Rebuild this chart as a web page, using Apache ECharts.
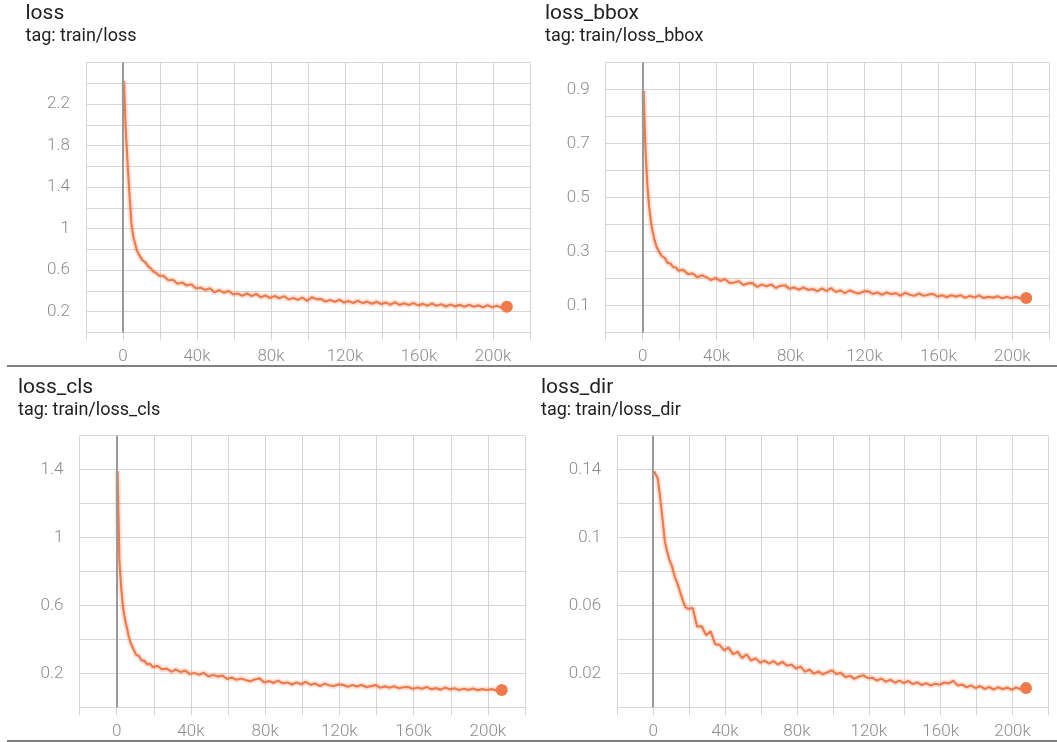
<!DOCTYPE html>
<html>
<head>
<meta charset="utf-8">
<title>train losses</title>
<script src="https://cdn.jsdelivr.net/npm/echarts@6/dist/echarts.min.js"></script>
<style>
html, body { margin: 0; padding: 0; background: #fff; }
#chart { width: 1057px; height: 742px; }
</style>
</head>
<body>
<div id="chart"></div>
<script>
// training step, in thousands
var steps = [0.5, 1.5, 2.5, 3.5, 4.5, 5.5, 6.5, 7.5, 9, 10.5, 12, 13.5, 15, 16.5, 18, 19.5,
  22, 24.5, 27, 29.5, 32, 34.5, 37, 39.5, 42, 44.5,
  47, 49.5, 52, 54.5, 57, 59.5, 62, 64.5, 67, 69.5,
  72, 74.5, 77, 79.5, 82, 84.5, 87, 89.5, 92, 94.5,
  97, 99.5, 102, 104.5, 107, 109.5, 112, 114.5, 117, 119.5,
  122, 124.5, 127, 129.5, 132, 134.5, 137, 139.5, 142, 144.5,
  147, 149.5, 152, 154.5, 157, 159.5, 162, 164.5, 167, 169.5,
  172, 174.5, 177, 179.5, 182, 184.5, 187, 189.5, 192, 194.5,
  197, 199.5, 202, 204.5, 207.5]

var loss = [2.42, 1.95, 1.62, 1.33, 1.06, 0.93, 0.86, 0.79, 0.74, 0.695, 0.678, 0.64, 0.618, 0.585, 0.572, 0.548,
  0.545, 0.503, 0.508, 0.469, 0.481, 0.453, 0.465, 0.424, 0.432, 0.41,
  0.426, 0.387, 0.406, 0.384, 0.4, 0.367, 0.376, 0.354, 0.376, 0.352,
  0.371, 0.34, 0.356, 0.332, 0.352, 0.33, 0.35, 0.318, 0.333, 0.316,
  0.336, 0.305, 0.338, 0.322, 0.322, 0.298, 0.313, 0.296, 0.316, 0.289,
  0.302, 0.284, 0.306, 0.283, 0.297, 0.277, 0.295, 0.274, 0.288, 0.268,
  0.291, 0.266, 0.282, 0.265, 0.284, 0.261, 0.276, 0.257, 0.279, 0.258,
  0.272, 0.251, 0.27, 0.252, 0.266, 0.247, 0.268, 0.248, 0.261, 0.244,
  0.262, 0.243, 0.257, 0.241, 0.249]

var lossBbox = [0.895, 0.68, 0.55, 0.465, 0.41, 0.37, 0.34, 0.318, 0.298, 0.282, 0.276, 0.258, 0.256, 0.242, 0.241, 0.229,
  0.232, 0.216, 0.219, 0.205, 0.212, 0.205, 0.194, 0.202, 0.191, 0.198,
  0.184, 0.185, 0.19, 0.176, 0.182, 0.183, 0.169, 0.178, 0.171, 0.178,
  0.165, 0.173, 0.175, 0.162, 0.167, 0.158, 0.167, 0.158, 0.161, 0.153,
  0.163, 0.154, 0.164, 0.15, 0.156, 0.146, 0.156, 0.149, 0.144, 0.152,
  0.153, 0.143, 0.148, 0.14, 0.148, 0.142, 0.146, 0.136, 0.147, 0.14,
  0.136, 0.144, 0.136, 0.14, 0.143, 0.133, 0.138, 0.131, 0.138, 0.133,
  0.138, 0.129, 0.135, 0.13, 0.137, 0.128, 0.132, 0.129, 0.134, 0.127,
  0.132, 0.127, 0.132, 0.126, 0.128]

var lossCls = [1.39, 0.86, 0.70, 0.585, 0.52, 0.47, 0.42, 0.38, 0.345, 0.31, 0.302, 0.276, 0.274, 0.252, 0.256, 0.237,
  0.244, 0.224, 0.228, 0.21, 0.222, 0.208, 0.216, 0.196, 0.202, 0.192,
  0.203, 0.182, 0.19, 0.181, 0.187, 0.167, 0.175, 0.162, 0.17, 0.161,
  0.153, 0.164, 0.17, 0.146, 0.155, 0.144, 0.156, 0.142, 0.146, 0.135,
  0.146, 0.136, 0.15, 0.132, 0.14, 0.126, 0.139, 0.13, 0.125, 0.135,
  0.132, 0.121, 0.131, 0.123, 0.132, 0.119, 0.125, 0.131, 0.115, 0.123,
  0.115, 0.124, 0.112, 0.118, 0.12, 0.109, 0.117, 0.109, 0.12, 0.107,
  0.113, 0.104, 0.116, 0.106, 0.112, 0.102, 0.109, 0.103, 0.11, 0.101,
  0.107, 0.102, 0.107, 0.1, 0.102]

var lossDir = [0.139, 0.1385, 0.135, 0.127, 0.118, 0.108, 0.098, 0.093, 0.087, 0.083, 0.077, 0.073, 0.068, 0.063, 0.059, 0.058,
  0.0585, 0.0475, 0.0478, 0.0425, 0.0448, 0.0372, 0.0368, 0.0335, 0.0352, 0.0312,
  0.0328, 0.029, 0.0312, 0.0276, 0.0289, 0.0262, 0.0274, 0.0258, 0.0272, 0.0252,
  0.0268, 0.0245, 0.0252, 0.0228, 0.0241, 0.021, 0.0222, 0.0198, 0.0211, 0.0194,
  0.0206, 0.0218, 0.0196, 0.0203, 0.0178, 0.0186, 0.0168, 0.0181, 0.0189, 0.0172,
  0.0174, 0.0158, 0.0169, 0.0151, 0.0162, 0.0145, 0.0157, 0.0143, 0.0155, 0.0137,
  0.0147, 0.0131, 0.0142, 0.0128, 0.0139, 0.0133, 0.0146, 0.0141, 0.0156, 0.0129,
  0.0134, 0.0118, 0.0128, 0.0113, 0.0125, 0.0108, 0.012, 0.0105, 0.0118, 0.0107,
  0.0116, 0.0104, 0.0117, 0.0106, 0.0113]

var names = ['loss', 'loss_bbox', 'loss_cls', 'loss_dir']
var tags = ['tag: train/loss', 'tag: train/loss_bbox', 'tag: train/loss_cls', 'tag: train/loss_dir']
var yMax = [2.6, 1, 1.6, 0.16]
var yStep = [0.2, 0.1, 0.2, 0.02]

// where each panel sits on the page
var boxes = [
  { left: 86, top: 62.5, width: 444, height: 270, tx: 25.5, ty: 3 },
  { left: 605.7, top: 62.5, width: 443.6, height: 270, tx: 545, ty: 3 },
  { left: 79.5, top: 435.7, width: 445.5, height: 271.6, tx: 18, ty: 377 },
  { left: 617.2, top: 435.7, width: 431.3, height: 271.6, tx: 541, ty: 377 }
]

var orange = '#f07a4c'
var gridColor = '#d6d6d6'
var labelColor = '#8c8c8c'
var font = 'Roboto, "Noto Sans", sans-serif'

var allValues = [loss, lossBbox, lossCls, lossDir]

var option = {
  animation: false,
  backgroundColor: '#fff',
  title: [],
  grid: [],
  xAxis: [],
  yAxis: [],
  series: [],
  graphic: [
    // panel separators
    { type: 'line', shape: { x1: 7, y1: 366, x2: 1057, y2: 366 }, style: { stroke: '#555', lineWidth: 1.3 } },
    { type: 'line', shape: { x1: 7, y1: 741, x2: 1057, y2: 741 }, style: { stroke: '#555', lineWidth: 1.3 } }
  ]
}

allValues.forEach(function (vals, i) {
  var b = boxes[i]
  var step = yStep[i]
  var top = yMax[i]
  var pts = steps.map(function (s, k) { return [s, vals[k]] })

  option.title.push({
    text: names[i],
    subtext: tags[i],
    left: b.tx,
    top: b.ty,
    padding: 0,
    itemGap: 3,
    textStyle: { fontFamily: font, fontSize: 21, fontWeight: 'normal', color: '#212121' },
    subtextStyle: { fontFamily: font, fontSize: 18, color: '#212121' }
  })

  option.grid.push({ left: b.left, top: b.top, width: b.width, height: b.height, containLabel: false })

  option.xAxis.push({
    type: 'value',
    gridIndex: i,
    min: -20,
    max: 220,
    interval: 20,
    axisLine: { show: false },
    axisTick: { show: true, length: 8, lineStyle: { color: gridColor } },
    splitLine: { show: true, lineStyle: { color: gridColor, width: 1 } },
    axisLabel: {
      margin: 16,
      color: labelColor,
      fontFamily: font,
      fontWeight: 300,
      fontSize: 17,
      formatter: function (v) {
        if (v < 0 || v > 200 || v % 40 !== 0) return ''
        return v === 0 ? '0' : v + 'k'
      }
    }
  })

  option.yAxis.push({
    type: 'value',
    gridIndex: i,
    min: 0,
    max: top,
    interval: step,
    axisLine: { show: false },
    axisTick: { show: true, length: 8, lineStyle: { color: gridColor } },
    splitLine: { show: true, lineStyle: { color: gridColor, width: 1 } },
    axisLabel: {
      margin: 16,
      color: labelColor,
      fontFamily: font,
      fontWeight: 300,
      fontSize: 17,
      formatter: function (v) {
        if (v >= top - step / 2) return ''
        return Math.round(v / step) % 2 === 1 ? String(+v.toFixed(3)) : ''
      }
    }
  })

  // faint raw band under the smoothed line
  option.series.push({
    type: 'line',
    xAxisIndex: i,
    yAxisIndex: i,
    data: pts,
    symbol: 'none',
    z: 2,
    lineStyle: { color: orange, width: 6, opacity: 0.2 },
    markLine: {
      silent: true,
      symbol: 'none',
      label: { show: false },
      lineStyle: { color: '#999', width: 2, type: 'solid' },
      data: [{ xAxis: 0 }]
    }
  })

  option.series.push({
    type: 'line',
    xAxisIndex: i,
    yAxisIndex: i,
    data: pts,
    symbol: 'none',
    z: 3,
    lineStyle: { color: orange, width: 2.2 }
  })

  // last value marker
  option.series.push({
    type: 'scatter',
    xAxisIndex: i,
    yAxisIndex: i,
    data: [pts[pts.length - 1]],
    symbolSize: 12,
    z: 4,
    itemStyle: { color: orange, opacity: 1 }
  })
})

var chart = echarts.init(document.getElementById('chart'))
chart.setOption(option)
</script>
</body>
</html>
